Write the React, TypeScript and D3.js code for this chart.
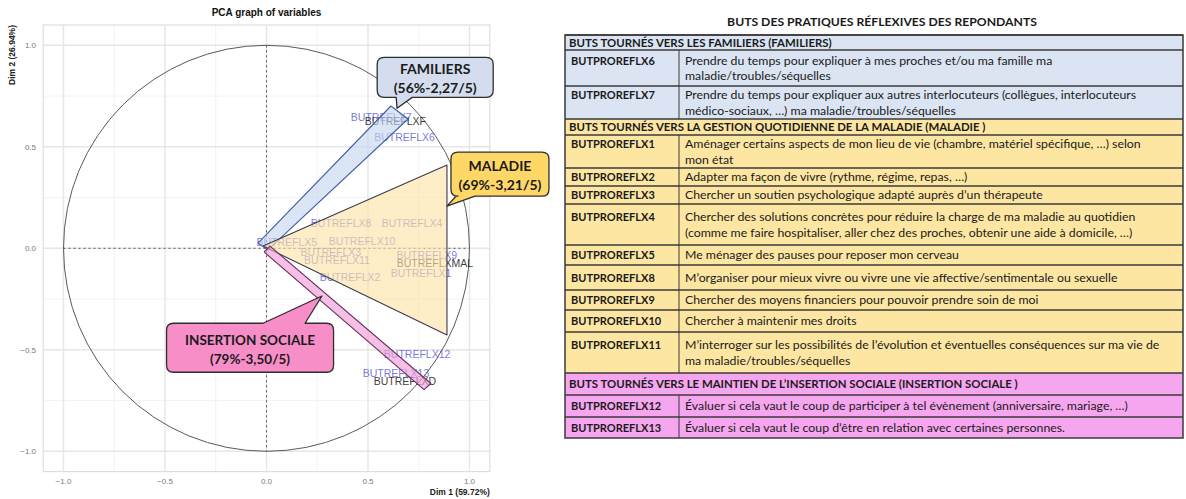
import React from "react";
import * as d3 from "d3";

// ---- PCA variables (coordinates) ----
const varNames = [
  "BUTREFLX7", "BUTREFLXF", "BUTREFLX6", "BUTREFLX8", "BUTREFLX4", "BUTREFLX5",
  "BUTREFLX10", "BUTREFLX3", "BUTREFLX11", "BUTREFLX9", "BUTREFLXMAL", "BUTREFLX1",
  "BUTREFLX2", "BUTREFLX12", "BUTREFLX13", "BUTREFLXD",
];
const dim1 = [0.565, 0.635, 0.680, 0.367, 0.717, 0.10, 0.471, 0.317, 0.347, 0.790, 0.830, 0.761, 0.412, 0.742, 0.638, 0.682];
const dim2 = [0.645, 0.625, 0.547, 0.123, 0.123, 0.030, 0.034, -0.020, -0.058, -0.033, -0.072, -0.122, -0.142, -0.520, -0.613, -0.652];
const supplementary = ["BUTREFLXF", "BUTREFLXMAL", "BUTREFLXD"];

const xTicks = [-1.0, -0.5, 0.0, 0.5, 1.0];
const minorTicks = [-0.75, -0.25, 0.25, 0.75];

// ---- groups drawn over the plot ----
const groupNames = ["FAMILIERS", "MALADIE", "INSERTION SOCIALE"];
const groupStats = ["(56%-2,27/5)", "(69%-3,21/5)", "(79%-3,50/5)"];
const groupHulls: [number, number][][] = [
  [[-0.042, 0.026], [0.613, 0.701], [0.697, 0.637], [0.007, -0.008]],
  [[-0.017, 0.011], [0.889, 0.41], [0.889, -0.427]],
  [[-0.012, -0.018], [0.776, -0.696], [0.810, -0.666], [0.017, 0.011]],
];
const groupTips: [number, number][] = [[0.643, 0.690], [0.889, 0.208], [0.273, -0.235]];
const groupBoxes: [number, number][] = [[0.831, 0.842], [1.150, 0.365], [-0.081, -0.490]];

// ---- table ----
const tableTitle = "BUTS DES PRATIQUES RÉFLEXIVES DES REPONDANTS";
const sectionTitles = [
  "BUTS TOURNÉS VERS LES FAMILIERS (FAMILIERS)",
  "BUTS TOURNÉS VERS LA GESTION QUOTIDIENNE DE LA MALADIE (MALADIE )",
  "BUTS TOURNÉS VERS LE MAINTIEN DE L’INSERTION SOCIALE (INSERTION SOCIALE )",
];
const sectionCodes = [
  ["BUTPROREFLX6", "BUTPROREFLX7"],
  ["BUTPROREFLX1", "BUTPROREFLX2", "BUTPROREFLX3", "BUTPROREFLX4", "BUTPROREFLX5",
    "BUTPROREFLX8", "BUTPROREFLX9", "BUTPROREFLX10", "BUTPROREFLX11"],
  ["BUTPROREFLX12", "BUTPROREFLX13"],
];
const sectionTexts = [
  [
    ["Prendre du temps pour expliquer à mes proches et/ou ma famille ma", "maladie/troubles/séquelles"],
    ["Prendre du temps pour expliquer aux autres interlocuteurs (collègues, interlocuteurs", "médico-sociaux, …) ma maladie/troubles/séquelles"],
  ],
  [
    ["Aménager certains aspects de mon lieu de vie (chambre, matériel spécifique, …) selon", "mon état"],
    ["Adapter ma façon de vivre (rythme, régime, repas, …)"],
    ["Chercher un soutien psychologique adapté auprès d’un thérapeute"],
    ["Chercher des solutions concrètes pour réduire la charge de ma maladie au quotidien", "(comme me faire hospitaliser, aller chez des proches, obtenir une aide à domicile, …)"],
    ["Me ménager des pauses pour reposer mon cerveau"],
    ["M’organiser pour mieux vivre ou vivre une vie affective/sentimentale ou sexuelle"],
    ["Chercher des moyens financiers pour pouvoir prendre soin de moi"],
    ["Chercher à maintenir mes droits"],
    ["M’interroger sur les possibilités de l’évolution et éventuelles conséquences sur ma vie de", "ma maladie/troubles/séquelles"],
  ],
  [
    ["Évaluer si cela vaut le coup de participer à tel évènement (anniversaire, mariage, …)"],
    ["Évaluer si cela vaut le coup d’être en relation avec certaines personnes."],
  ],
];

// layout / style
const sectionFill = ["#dbe4f2", "#fde6a2", "#f6a6ef"];
const hullFill = ["#c7d5ef", "#fde3a6", "#f09ad6"];
const hullStroke = ["#3f5ea8", "#3a3a50", "#6a2f60"];
const boxFill = ["#d3ddee", "#ffd767", "#f78ec8"];
const rowHeights = [15, 36, 33, 16, 33, 18, 18, 41, 20, 25, 20, 22, 41, 22, 22, 21];
const boxSize = [[116, 40], [98, 44], [167, 49]];
const pointerEdge = ["bottom", "bottom", "top"];
const pointerBase = [[-39, -23], [-44, -25], [13, 55]];

const FONT_PLOT = "'Liberation Sans', Arial, sans-serif";
const FONT_TAB = "Lato, 'Open Sans', sans-serif";

function calloutPath(cx: number, cy: number, w: number, h: number, r: number,
  edge: string, b: number[], tx: number, ty: number) {
  const L = cx - w / 2, R = cx + w / 2, T = cy - h / 2, B = cy + h / 2;
  let p = `M${L + r},${T}`;
  if (edge === "top") p += `L${cx + b[0]},${T}L${tx},${ty}L${cx + b[1]},${T}`;
  p += `L${R - r},${T}Q${R},${T} ${R},${T + r}L${R},${B - r}Q${R},${B} ${R - r},${B}`;
  if (edge === "bottom") p += `L${cx + b[1]},${B}L${tx},${ty}L${cx + b[0]},${B}`;
  p += `L${L + r},${B}Q${L},${B} ${L},${B - r}L${L},${T + r}Q${L},${T} ${L + r},${T}Z`;
  return p;
}

function PcaPlot() {
  const x = d3.scaleLinear().domain([-1.1, 1.1]).range([43.2, 489.8]);
  const y = d3.scaleLinear().domain([-1.1, 1.1]).range([471.6, 25]);
  const r = x(1) - x(0);
  const line = d3.line<[number, number]>().x((d) => x(d[0])).y((d) => y(d[1]));
  const [x0, x1] = x.range();
  const [y0, y1] = y.range();
  return (
    <g>
      <text x={x(0)} y={16} textAnchor="middle" fontFamily={FONT_PLOT} fontWeight="bold" fontSize={10} fill="#111">
        PCA graph of variables
      </text>
      {/* grid */}
      {minorTicks.map((t) => (
        <g key={"m" + t} stroke="#efefef" strokeWidth={0.8}>
          <line x1={x(t)} x2={x(t)} y1={y1} y2={y0} />
          <line x1={x0} x2={x1} y1={y(t)} y2={y(t)} />
        </g>
      ))}
      {xTicks.map((t) => (
        <g key={"M" + t} stroke="#e6e6e6" strokeWidth={1.4}>
          <line x1={x(t)} x2={x(t)} y1={y1} y2={y0} />
          <line x1={x0} x2={x1} y1={y(t)} y2={y(t)} />
        </g>
      ))}
      <rect x={x0} y={y1} width={x1 - x0} height={y0 - y1} fill="none" stroke="#dedede" strokeWidth={1.2} />
      {/* ticks */}
      {xTicks.map((t) => (
        <text key={"xt" + t} x={x(t)} y={y0 + 12} textAnchor="middle" fontFamily={FONT_PLOT} fontSize={8} fill="#7a7a7a">
          {d3.format(".1f")(t)}
        </text>
      ))}
      {xTicks.map((t) => (
        <text key={"yt" + t} x={36} y={y(t) + 3} textAnchor="end" fontFamily={FONT_PLOT} fontSize={8} fill="#7a7a7a">
          {d3.format(".1f")(t)}
        </text>
      ))}
      <text x={x1} y={495} textAnchor="end" fontFamily={FONT_PLOT} fontWeight="bold" fontSize={8.5} fill="#222">
        Dim 1 (59.72%)
      </text>
      <text transform={`translate(15,${y1}) rotate(-90)`} textAnchor="end" fontFamily={FONT_PLOT} fontWeight="bold" fontSize={8.5} fill="#222">
        Dim 2 (26.94%)
      </text>
      {/* circle and axes */}
      <circle cx={x(0)} cy={y(0)} r={r} fill="none" stroke="#5a5a5a" strokeWidth={1} />
      <line x1={x(-1)} x2={x(1)} y1={y(0)} y2={y(0)} stroke="#555" strokeDasharray="2,3" strokeWidth={1} />
      <line x1={x(0)} x2={x(0)} y1={y(1)} y2={y(-1)} stroke="#555" strokeDasharray="2,3" strokeWidth={1} />
      {/* variable labels */}
      {varNames.map((n, i) => {
        const sup = supplementary.includes(n);
        return (
          <text key={n} x={x(dim1[i])} y={y(dim2[i]) + 4} textAnchor="middle" fontFamily={FONT_PLOT}
            fontSize={10.5} fill={sup ? "#1e1e1e" : "#5656d0"} fillOpacity={sup ? 0.9 : 0.8}>
            {n}
          </text>
        );
      })}
      {/* group hulls */}
      {groupHulls.map((h, i) => (
        <path key={"h" + i} d={line([...h, h[0]]) || ""} fill={hullFill[i]} fillOpacity={0.62}
          stroke={hullStroke[i]} strokeWidth={1.1} strokeLinejoin="round" />
      ))}
      {/* callouts */}
      {groupNames.map((g, i) => {
        const cx = x(groupBoxes[i][0]), cy = y(groupBoxes[i][1]);
        const [w, h] = boxSize[i];
        return (
          <g key={"c" + i}>
            <path d={calloutPath(cx, cy, w, h, 7, pointerEdge[i], pointerBase[i], x(groupTips[i][0]), y(groupTips[i][1]))}
              fill={boxFill[i]} stroke="#2e2e2e" strokeWidth={1.3} strokeLinejoin="round" />
            <text x={cx} y={cy - 3} textAnchor="middle" fontFamily={FONT_TAB} fontWeight="bold" fontSize={i === 2 ? 13.5 : 14} fill="#1a1a1a">
              {g}
            </text>
            <text x={cx} y={cy + 16} textAnchor="middle" fontFamily={FONT_TAB} fontWeight="bold" fontSize={i === 2 ? 13.5 : 14} fill="#1a1a1a">
              {groupStats[i]}
            </text>
          </g>
        );
      })}
    </g>
  );
}

function GoalsTable() {
  const left = 565, right = 1183, split = 679, top = 35;
  type Row = { kind: "head" | "item"; section: number; code?: string; lines: string[] };
  const rows: Row[] = [];
  sectionTitles.forEach((t, s) => {
    rows.push({ kind: "head", section: s, lines: [t] });
    sectionCodes[s].forEach((c, k) => rows.push({ kind: "item", section: s, code: c, lines: sectionTexts[s][k] }));
  });
  const ys = [top, ...d3.cumsum(rowHeights).map((v) => top + v)];
  const bottom = ys[rows.length];
  const lh = 15.5;
  return (
    <g fontFamily={FONT_TAB} fill="#1a1a1a">
      <text x={882} y={26} textAnchor="middle" fontWeight="bold" fontSize={12.2}>{tableTitle}</text>
      {rows.map((row, i) => {
        const y0 = ys[i], h = ys[i + 1] - ys[i];
        const firstCenter = y0 + h / 2 - ((row.lines.length - 1) * lh) / 2 + (row.lines.length > 1 ? 0.5 : 0);
        return (
          <g key={i}>
            <rect x={left} y={y0} width={right - left} height={h} fill={sectionFill[row.section]} />
            {row.kind === "head" ? (
              <text x={left + 4} y={firstCenter + 4.2} fontWeight="bold" fontSize={11.4}>{row.lines[0]}</text>
            ) : (
              <g>
                <text x={left + 6} y={firstCenter + 4} fontWeight="bold" fontSize={11}>{row.code}</text>
                {row.lines.map((l, k) => (
                  <text key={k} x={split + 6} y={firstCenter + 4.2 + k * lh} fontSize={12.3}>{l}</text>
                ))}
                <line x1={split} x2={split} y1={y0} y2={y0 + h} stroke="#3a3a3a" strokeWidth={1} />
              </g>
            )}
            <line x1={left} x2={right} y1={y0} y2={y0} stroke="#3a3a3a" strokeWidth={1.3} />
          </g>
        );
      })}
      <rect x={left} y={top} width={right - left} height={bottom - top} fill="none" stroke="#3a3a3a" strokeWidth={1.5} />
    </g>
  );
}

export default function App() {
  return (
    <div style={{ position: "absolute", left: 0, top: 0, width: 1186, height: 499, background: "#fff" }}>
      <svg width={1186} height={499} style={{ display: "block" }}>
        <rect width={1186} height={499} fill="#fff" />
        <PcaPlot />
        <GoalsTable />
      </svg>
    </div>
  );
}
